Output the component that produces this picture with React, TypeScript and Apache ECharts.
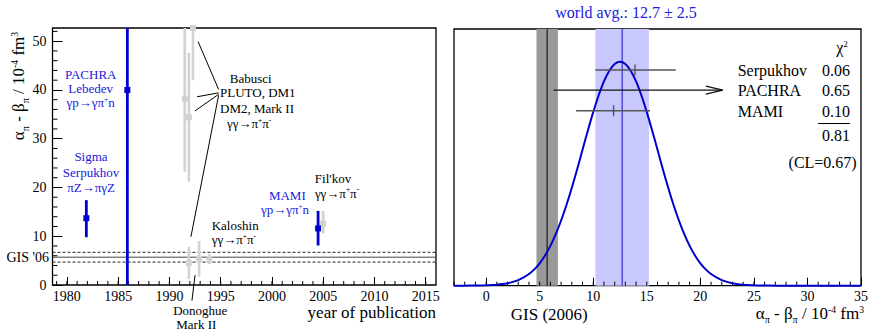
import React, { useEffect, useRef } from 'react';
import * as echarts from 'echarts';

// ---------- Left panel data ----------
const blueYears = [1981.9, 1985.9, 2004.5];
const blueValues = [13.7, 40.0, 11.6];
const blueLow = [9.8, 0.0, 8.1];
const blueHigh = [17.4, 80.0, 15.2];

const grayYears = [1991.5, 1991.9, 1992.3, 1991.9, 1992.9, 1993.9, 2005.0];
const grayValues = [38.2, 34.4, 52.7, 4.5, 5.4, 5.3, 12.6];
const grayLow = [23.2, 21.2, 42.0, 1.2, 1.7, 4.3, 10.6];
const grayHigh = [53.2, 47.6, 63.4, 7.8, 9.0, 6.3, 15.2];

const gisValue = 5.7;
const gisError = 1.0;

const yearTicks = [1980, 1985, 1990, 1995, 2000, 2005, 2010, 2015];
const yearMinor = [1979, 1980, 1981, 1982, 1983, 1984, 1985, 1986, 1987, 1988, 1989, 1990, 1991, 1992, 1993, 1994, 1995, 1996, 1997, 1998, 1999, 2000, 2001, 2002, 2003, 2004, 2005, 2006, 2007, 2008, 2009, 2010, 2011, 2012, 2013, 2014, 2015];
const leftYTicks = [0, 10, 20, 30, 40, 50];
const leftYMinor = [2, 4, 6, 8, 12, 14, 16, 18, 22, 24, 26, 28, 32, 34, 36, 38, 42, 44, 46, 48, 52];

// leader lines of the annotations (data coordinates)
const leaderLines = [
  [[1992.8, 49.9], [1994.8, 40.1]],
  [[1992.7, 38.6], [1994.8, 39.4]],
  [[1992.5, 35.7], [1994.8, 39.1]],
  [[1992.1, 9.9], [1994.8, 38.9]],
  [[1992.5, 2.0], [1992.2, -3.2]],
];

// ---------- Right panel data ----------
const gaussX = [-3, -2, -1, 0, 0.5, 1, 1.5, 2, 2.5, 3, 3.5, 4, 4.5, 5, 5.5, 6, 6.5, 7, 7.5, 8, 8.5, 9, 9.5, 10, 10.5, 11, 11.5, 12, 12.5, 13, 13.5, 14, 14.5, 15, 15.5, 16, 16.5, 17, 17.5, 18, 18.5, 19, 19.5, 20, 20.5, 21, 21.5, 22, 22.5, 23, 23.5, 24, 24.5, 25, 26, 27, 28, 30, 35];
const gaussY = [0, 0.0002, 0.0006, 0.0017, 0.0028, 0.0045, 0.0072, 0.011, 0.017, 0.025, 0.037, 0.052, 0.073, 0.100, 0.135, 0.178, 0.230, 0.291, 0.360, 0.437, 0.520, 0.607, 0.693, 0.775, 0.849, 0.912, 0.960, 0.990, 1.0, 0.990, 0.960, 0.912, 0.849, 0.775, 0.693, 0.607, 0.520, 0.437, 0.360, 0.291, 0.230, 0.178, 0.135, 0.100, 0.073, 0.052, 0.037, 0.025, 0.017, 0.011, 0.007, 0.0045, 0.0028, 0.0017, 0.0006, 0.0002, 0, 0, 0];

const worldAvg = 12.7;
const worldErr = 2.5;
const gis06 = 5.7;
const gis06Err = 1.0;

const measNames = ['Serpukhov', 'PACHRA', 'MAMI'];
const measCenter = [13.9, 40.0, 11.9];
const measLow = [10.2, 6.3, 8.4];
const measHigh = [17.7, 22.1, 15.3];
const measRow = [0.963, 0.873, 0.781];
const measArrow = [0, 1, 0];
const chi2Values = ['0.06', '0.65', '0.10'];
const chi2Total = '0.81';

const rightTicks = [0, 5, 10, 15, 20, 25, 30, 35];
const rightMinor = [-3, -2, -1, 0, 1, 2, 3, 4, 5, 6, 7, 8, 9, 10, 11, 12, 13, 14, 15, 16, 17, 18, 19, 20, 21, 22, 23, 24, 25, 26, 27, 28, 29, 30, 31, 32, 33, 34];

// ---------- ranges / styles ----------
const X_MIN_L = 1978.6, X_MAX_L = 2016, Y_MAX_L = 52.7;
const X_MIN_R = -3, X_MAX_R = 35, Y_MAX_R = 1.146;

const FONT = '"Liberation Serif", "DejaVu Serif", serif';
const BLUE_TXT = '#2020e0';
const BLUE = '#0000d0';
const LGRAY = '#d2d2d2';

function richStyles(F: number, color: string) {
  return {
    n: { fontSize: F, fontFamily: FONT, fill: color, padding: [0.35 * F, 0, 0, 0], verticalAlign: 'top' },
    sp: { fontSize: 0.57 * F, fontFamily: FONT, fill: color, padding: [0.3 * F, 0, 0, 0], verticalAlign: 'top' },
    sb: { fontSize: 0.6 * F, fontFamily: FONT, fill: color, padding: [0.92 * F, 0, 0, 0], verticalAlign: 'top' },
  };
}

function markup(s: string) {
  let out = '';
  let buf = '';
  let i = 0;
  const nb = (t: string) => t.replace(/ /g, '\u00A0');
  while (i < s.length) {
    if ((s[i] === '^' || s[i] === '_') && s[i + 1] === '{') {
      if (buf) { out += `{n|${nb(buf)}}`; buf = ''; }
      const end = s.indexOf('}', i);
      out += `{${s[i] === '^' ? 'sp' : 'sb'}|${nb(s.slice(i + 2, end))}}`;
      i = end + 1;
    } else {
      buf += s[i];
      i++;
    }
  }
  if (buf) out += `{n|${nb(buf)}}`;
  return out;
}

function txt(str: string, x: number, yc: number, F: number, color: string, align: string) {
  const hasScript = /[\^_]\{/.test(str);
  if (!hasScript) {
    return {
      type: 'text', x, y: yc, z: 100, silent: true,
      style: { text: str, align, verticalAlign: 'middle', fill: color, fontSize: F, fontFamily: FONT },
    };
  }
  return {
    type: 'text',
    x,
    y: yc - 0.85 * F,
    z: 100,
    silent: true,
    style: {
      text: markup(str),
      rich: richStyles(F, color),
      align,
      verticalAlign: 'top',
      fill: color,
      fontSize: F,
      fontFamily: FONT,
    },
  };
}

export default function App() {
  const ref = useRef<HTMLDivElement>(null);

  useEffect(() => {
    if (!ref.current) return;
    const chart = echarts.init(ref.current, null, { renderer: 'svg' });

    const vLineTicks = (len: number) => (params: any, api: any) => {
      const p = api.coord([api.value(0), api.value(1)]);
      return {
        type: 'line',
        shape: { x1: p[0], y1: p[1], x2: p[0], y2: p[1] - len },
        style: { stroke: '#000', lineWidth: 1 },
      };
    };
    const hLineTicks = (len: number) => (params: any, api: any) => {
      const p = api.coord([api.value(0), api.value(1)]);
      return {
        type: 'line',
        shape: { x1: p[0], y1: p[1], x2: p[0] + len, y2: p[1] },
        style: { stroke: '#000', lineWidth: 1 },
      };
    };

    const errBar = (color: string, lw: number) => (params: any, api: any) => {
      const x = api.value(0), y = api.value(1), lo = api.value(2), hi = api.value(3);
      const top = api.coord([x, Math.min(hi, Y_MAX_L)]);
      const bot = api.coord([x, Math.max(lo, 0)]);
      const c = api.coord([x, y]);
      return {
        type: 'group',
        children: [
          { type: 'line', shape: { x1: top[0], y1: top[1], x2: bot[0], y2: bot[1] }, style: { stroke: color, lineWidth: lw } },
          { type: 'rect', shape: { x: c[0] - 3, y: c[1] - 3, width: 6, height: 6 }, style: { fill: color } },
        ],
      };
    };

    const axisLabelStyle = { fontFamily: 'Liberation Serif', color: '#000', formatter: (v: number) => String(v) };

    const series: any[] = [];

    // left minor ticks
    series.push({
      type: 'custom', xAxisIndex: 0, yAxisIndex: 0, silent: true, z: 3,
      data: yearMinor.map((v) => [v, 0]), encode: { x: 0, y: 1 },
      renderItem: vLineTicks(4),
    });
    series.push({
      type: 'custom', xAxisIndex: 0, yAxisIndex: 0, silent: true, z: 3,
      data: leftYMinor.map((v) => [X_MIN_L, v]), encode: { x: 0, y: 1 },
      renderItem: hLineTicks(5),
    });

    // GIS '06 lines
    const gisLines = [
      { v: gisValue, type: 'solid' as any, color: '#444' },
      { v: gisValue + gisError, type: [3, 2] as any, color: '#222' },
      { v: gisValue - gisError, type: [3, 2] as any, color: '#222' },
    ];
    gisLines.forEach((g) => {
      series.push({
        type: 'line', xAxisIndex: 0, yAxisIndex: 0, silent: true, z: 2,
        data: [[X_MIN_L, g.v], [X_MAX_L, g.v]],
        showSymbol: false, symbol: 'none',
        lineStyle: { color: g.color, width: 1, type: g.type },
      });
    });

    // gray error bars
    series.push({
      type: 'custom', xAxisIndex: 0, yAxisIndex: 0, silent: true, z: 4,
      data: grayYears.map((x, i) => [x, grayValues[i], grayLow[i], grayHigh[i]]),
      encode: { x: 0, y: 1 },
      renderItem: errBar(LGRAY, 2.6),
    });
    // blue error bars
    series.push({
      type: 'custom', xAxisIndex: 0, yAxisIndex: 0, silent: true, z: 5,
      data: blueYears.map((x, i) => [x, blueValues[i], blueLow[i], blueHigh[i]]),
      encode: { x: 0, y: 1 },
      renderItem: errBar(BLUE, 2.8),
    });

    // leader lines
    leaderLines.forEach((seg) => {
      series.push({
        type: 'line', xAxisIndex: 0, yAxisIndex: 0, silent: true, z: 6, clip: false,
        data: seg, showSymbol: false, symbol: 'none',
        lineStyle: { color: '#000', width: 1 },
      });
    });

    // right minor ticks
    series.push({
      type: 'custom', xAxisIndex: 1, yAxisIndex: 1, silent: true, z: 3,
      data: rightMinor.map((v) => [v, 0]), encode: { x: 0, y: 1 },
      renderItem: vLineTicks(4),
    });

    // bands
    const bandData = [
      [gis06 - gis06Err, gis06 + gis06Err, 0],
      [worldAvg - worldErr, worldAvg + worldErr, 1],
    ];
    const bandColors = ['#999999', '#c8c8ff'];
    series.push({
      type: 'custom', xAxisIndex: 1, yAxisIndex: 1, silent: true, z: 1,
      data: bandData, encode: { x: [0, 1] },
      renderItem: (params: any, api: any) => {
        const a = api.coord([api.value(0), Y_MAX_R]);
        const b = api.coord([api.value(1), 0]);
        return {
          type: 'rect',
          shape: { x: a[0], y: a[1], width: b[0] - a[0], height: b[1] - a[1] },
          style: { fill: bandColors[api.value(2)] },
        };
      },
    });
    // center lines
    const centerLines = [
      [gis06, 0],
      [worldAvg, 1],
    ];
    const centerColors = ['#333333', '#1010c0'];
    const centerWidths = [1.5, 1];
    series.push({
      type: 'custom', xAxisIndex: 1, yAxisIndex: 1, silent: true, z: 2,
      data: centerLines, encode: { x: 0 },
      renderItem: (params: any, api: any) => {
        const a = api.coord([api.value(0), Y_MAX_R]);
        const b = api.coord([api.value(0), 0]);
        const k = api.value(1);
        return {
          type: 'line',
          shape: { x1: a[0], y1: a[1], x2: b[0], y2: b[1] },
          style: { stroke: centerColors[k], lineWidth: centerWidths[k] },
        };
      },
    });

    // measurements (horizontal bars)
    series.push({
      type: 'custom', xAxisIndex: 1, yAxisIndex: 1, silent: true, z: 6,
      data: measNames.map((n, i) => [measLow[i], measHigh[i], measCenter[i], measRow[i], measArrow[i]]),
      encode: { x: [0, 1], y: 3 },
      renderItem: (params: any, api: any) => {
        const lo = api.coord([api.value(0), api.value(3)]);
        const hi = api.coord([api.value(1), api.value(3)]);
        const arrow = api.value(4) === 1;
        const col = arrow ? '#111' : '#555';
        const children: any[] = [
          { type: 'line', shape: { x1: lo[0], y1: lo[1], x2: hi[0], y2: hi[1] }, style: { stroke: col, lineWidth: 1.4 } },
        ];
        if (arrow) {
          children.push({ type: 'polyline', shape: { points: [[hi[0] - 17, hi[1] - 4], [hi[0], hi[1]], [hi[0] - 17, hi[1] + 4]] }, style: { stroke: col, lineWidth: 1.2, fill: 'none' } });
        } else {
          const c = api.coord([api.value(2), api.value(3)]);
          children.push({ type: 'line', shape: { x1: c[0], y1: c[1] - 5.5, x2: c[0], y2: c[1] + 5.5 }, style: { stroke: col, lineWidth: 1.4 } });
        }
        return { type: 'group', children };
      },
    });

    // gaussian
    series.push({
      type: 'line', xAxisIndex: 1, yAxisIndex: 1, silent: true, z: 5, clip: false,
      data: gaussX.map((x, i) => [x, gaussY[i]]),
      showSymbol: false, symbol: 'none', smooth: 0.3,
      lineStyle: { color: '#0000cc', width: 2 },
    });

    const graphics: any[] = [
      // left panel annotations
      txt('PACHRA', 90.7, 74, 13, BLUE_TXT, 'center'),
      txt('Lebedev', 90.7, 88.5, 13, BLUE_TXT, 'center'),
      txt('γp→γπ^{+}n', 90.7, 103, 13, BLUE_TXT, 'center'),
      txt('Sigma', 91, 156, 13, BLUE_TXT, 'center'),
      txt('Serpukhov', 91, 172, 13, BLUE_TXT, 'center'),
      txt('πZ→πγZ', 91, 187, 13, BLUE_TXT, 'center'),
      txt('Babusci', 250.7, 78.3, 13, '#000', 'center'),
      txt('PLUTO, DM1', 220, 92.2, 13, '#000', 'left'),
      txt('DM2, Mark II', 220, 108, 13, '#000', 'left'),
      txt('γγ→π^{+}π^{-}', 227, 124, 13, '#000', 'left'),
      txt('Kaloshin', 211.7, 225, 13, '#000', 'left'),
      txt('γγ→π^{+}π^{-}', 211.7, 240, 13, '#000', 'left'),
      txt('MAMI', 287.3, 195.7, 13, BLUE_TXT, 'center'),
      txt('γp→γπ^{+}n', 285, 210, 13, BLUE_TXT, 'center'),
      txt("Fil'kov", 333, 178.5, 13, '#000', 'center'),
      txt('γγ→π^{+}π^{-}', 337, 193.3, 13, '#000', 'center'),
      txt('Donoghue', 200.3, 310.5, 13, '#000', 'center'),
      txt('Mark II', 196.3, 324, 13, '#000', 'center'),
      txt('year of publication', 436, 312, 17, '#000', 'right'),
      txt("GIS '06", 27.8, 257, 14, '#000', 'center'),
      {
        type: 'group', x: 4.5, y: 86, rotation: Math.PI / 2, z: 100, silent: true,
        children: [
          {
            type: 'text', x: 0, y: 0,
            style: {
              text: markup('α_{π} - β_{π} / 10^{-4} fm^{3}'),
              rich: richStyles(17, '#000'),
              align: 'center', verticalAlign: 'top', fill: '#000', fontSize: 17, fontFamily: FONT,
            },
          },
        ],
      },
      // right panel annotations
      txt('world avg.: 12.7 ± 2.5', 626, 12.7, 16, BLUE_TXT, 'center'),
      txt('χ^{2}', 842, 48, 16, '#000', 'center'),
      ...measNames.map((n, i) => txt(n, 737.7, [70.7, 90.7, 111.7][i], 16, '#000', 'left')),
      ...chi2Values.map((v, i) => txt(v, 850, [70.7, 90.7, 111.7][i], 16, '#000', 'right')),
      {
        type: 'line', z: 100, silent: true,
        shape: { x1: 818, y1: 123.5, x2: 850, y2: 123.5 },
        style: { stroke: '#000', lineWidth: 1 },
      },
      txt(chi2Total, 850, 135, 16, '#000', 'right'),
      txt('(CL=0.67)', 856.7, 162.3, 16, '#000', 'right'),
      txt('GIS (2006)', 549.3, 314, 17, '#000', 'center'),
      txt('α_{π} - β_{π} / 10^{-4} fm^{3}', 864, 313.5, 17, '#000', 'right'),
    ];

    const option: any = {
      animation: false,
      backgroundColor: '#fff',
      grid: [
        { left: 52.5, top: 28, width: 383.5, height: 257, show: true, borderColor: '#000', borderWidth: 1.3, backgroundColor: 'transparent', containLabel: false },
        { left: 454, top: 29, width: 410, height: 256.7, show: true, borderColor: '#000', borderWidth: 1.3, backgroundColor: 'transparent', containLabel: false },
      ],
      xAxis: [
        {
          gridIndex: 0, type: 'value', min: X_MIN_L, max: X_MAX_L,
          axisLine: { show: false }, splitLine: { show: false },
          axisTick: { show: true, inside: true, length: 8, customValues: yearTicks, lineStyle: { color: '#000', width: 1 } },
          axisLabel: { ...axisLabelStyle, fontSize: 14, margin: 4, customValues: yearTicks },
        },
        {
          gridIndex: 1, type: 'value', min: X_MIN_R, max: X_MAX_R,
          axisLine: { show: false }, splitLine: { show: false },
          axisTick: { show: true, inside: true, length: 8, customValues: rightTicks, lineStyle: { color: '#000', width: 1 } },
          axisLabel: { ...axisLabelStyle, fontSize: 14, margin: 4, customValues: rightTicks },
        },
      ],
      yAxis: [
        {
          gridIndex: 0, type: 'value', min: 0, max: Y_MAX_L,
          axisLine: { show: false }, splitLine: { show: false },
          axisTick: { show: true, inside: true, length: 10, customValues: leftYTicks, lineStyle: { color: '#000', width: 1 } },
          axisLabel: { ...axisLabelStyle, fontSize: 14, margin: 6, customValues: leftYTicks },
        },
        {
          gridIndex: 1, type: 'value', min: 0, max: Y_MAX_R, show: false,
          splitLine: { show: false },
        },
      ],
      series,
      graphic: graphics,
    };

    chart.setOption(option);
    return () => chart.dispose();
  }, []);

  return (
    <div
      ref={ref}
      style={{ position: 'fixed', left: 0, top: 0, width: 871, height: 331, background: '#fff' }}
    />
  );
}
